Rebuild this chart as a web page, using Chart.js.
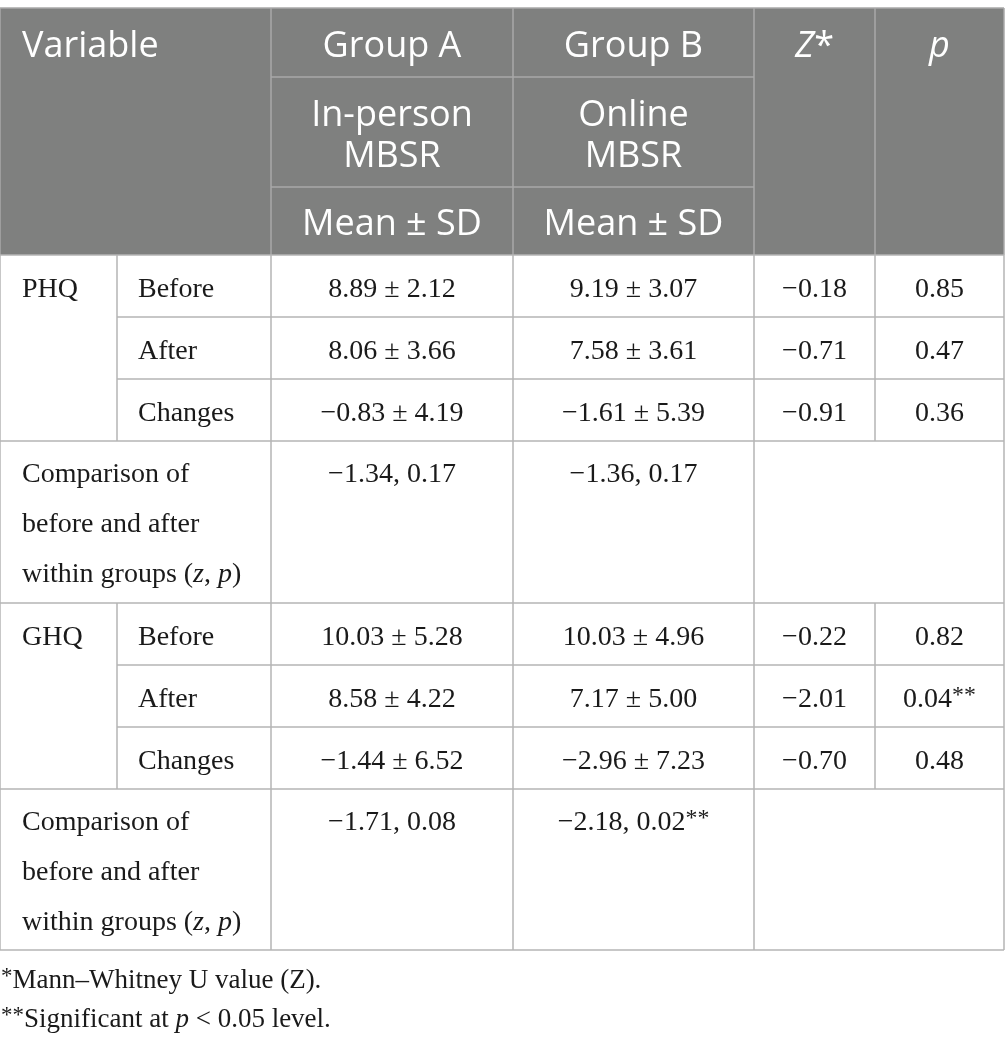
<!DOCTYPE html>
<html>
<head>
<meta charset="utf-8">
<style>
  html, body { margin: 0; padding: 0; background: #ffffff; }
  canvas { display: block; }
</style>
<script src="https://cdn.jsdelivr.net/npm/chart.js@4/dist/chart.umd.min.js"></script>
</head>
<body>
<canvas id="c" width="1005" height="1046"></canvas>
<script>
// ---------- DATA ----------
const headerVariable = 'Variable';
const groupNames = ['Group A', 'Group B'];
const groupModes = [['In-person', 'MBSR'], ['Online', 'MBSR']];
const statLabel = 'Mean ± SD';
const measures = ['PHQ', 'GHQ'];
const timepoints = ['Before', 'After', 'Changes'];
const meanA = [[8.89, 8.06, -0.83], [10.03, 8.58, -1.44]];
const sdA   = [[2.12, 3.66, 4.19], [5.28, 4.22, 6.52]];
const meanB = [[9.19, 7.58, -1.61], [10.03, 7.17, -2.96]];
const sdB   = [[3.07, 3.61, 5.39], [4.96, 5.00, 7.23]];
const zVals = [[-0.18, -0.71, -0.91], [-0.22, -2.01, -0.70]];
const pVals = [[0.85, 0.47, 0.36], [0.82, 0.04, 0.48]];
const withinA = [[-1.34, 0.17], [-1.71, 0.08]];
const withinB = [[-1.36, 0.17], [-2.18, 0.02]];
const footnotes = [
  [{t: '*', a: true}, {t: 'Mann–Whitney U value (Z).'}],
  [{t: '**', a: true}, {t: 'Significant at '}, {t: 'p', i: true}, {t: ' < 0.05 level.'}]
];

// ---------- LAYOUT (positions / styles) ----------
const colEdges = [0, 117, 271, 513, 754, 875, 1004];
const headRows = [8, 77, 187, 255];
const bodyRows = [255, 317, 379, 441, 603, 665, 727, 789, 950];
const footBase = [988, 1027];
const HEAD_BG = '#7f807f', HEAD_LINE = '#a8a8a8', BODY_LINE = '#b4b4b4';
const TXT = '#1a1a1a';
const SANS = '"Open Sans", sans-serif';
const SERIF = '"Liberation Serif", "Times New Roman", serif';
const HS = 36, BS = 28;

function fmt(v) { return (v < 0 ? '−' : '') + Math.abs(v).toFixed(2); }
function sigSeg(p) { return p < 0.05 ? [{t: '**', a: true}] : []; }

const tablePlugin = {
  id: 'table',
  afterDraw(chart) {
    const ctx = chart.ctx, xs = chart.scales.x, ys = chart.scales.y;
    const X = v => xs.getPixelForValue(v), Y = v => ys.getPixelForValue(v);
    ctx.save();
    ctx.fillStyle = HEAD_BG;
    ctx.fillRect(X(colEdges[0]), Y(headRows[0]), X(colEdges[6]) - X(colEdges[0]), Y(headRows[3]) - Y(headRows[0]));

    function line(x1, y1, x2, y2, col) {
      ctx.strokeStyle = col; ctx.lineWidth = 1.5;
      ctx.beginPath(); ctx.moveTo(X(x1), Y(y1)); ctx.lineTo(X(x2), Y(y2)); ctx.stroke();
    }
    function fontOf(s, size, family) {
      const sz = s.a ? size * 0.85 : size;
      return (s.i ? 'italic ' : '') + sz + 'px ' + family;
    }
    function rich(segs, x, y, size, family, align, color) {
      ctx.fillStyle = color; ctx.textBaseline = 'alphabetic';
      let total = 0;
      segs.forEach(s => { ctx.font = fontOf(s, size, family); total += ctx.measureText(s.t).width; });
      let cx = align === 'center' ? X(x) - total / 2 : X(x);
      ctx.textAlign = 'left';
      segs.forEach(s => {
        ctx.font = fontOf(s, size, family);
        ctx.fillText(s.t, cx, Y(y) - (s.a ? size * 0.17 : 0));
        cx += ctx.measureText(s.t).width;
      });
    }
    const mid = (a, b) => (colEdges[a] + colEdges[b]) / 2;

    // header lines
    [2, 3, 4, 5].forEach(c => line(colEdges[c], headRows[0], colEdges[c], headRows[3], HEAD_LINE));
    line(colEdges[2], headRows[1], colEdges[4], headRows[1], HEAD_LINE);
    line(colEdges[2], headRows[2], colEdges[4], headRows[2], HEAD_LINE);
    line(colEdges[0], headRows[0], colEdges[6], headRows[0], HEAD_LINE);
    line(colEdges[0], headRows[0], colEdges[0], headRows[3], HEAD_LINE);
    line(colEdges[6], headRows[0], colEdges[6], headRows[3], HEAD_LINE);

    // header text
    const W = '#ffffff';
    rich([{t: headerVariable}], colEdges[0] + 22, headRows[0] + 49, HS, SANS, 'left', W);
    groupNames.forEach((g, k) => {
      rich([{t: g}], mid(2 + k, 3 + k), headRows[0] + 49, HS, SANS, 'center', W);
      rich([{t: groupModes[k][0]}], mid(2 + k, 3 + k), headRows[1] + 49, HS, SANS, 'center', W);
      rich([{t: groupModes[k][1]}], mid(2 + k, 3 + k), headRows[1] + 90, HS, SANS, 'center', W);
      rich([{t: statLabel}], mid(2 + k, 3 + k), headRows[2] + 48, HS, SANS, 'center', W);
    });
    rich([{t: 'Z', i: true}, {t: '*'}], mid(4, 5), headRows[0] + 49, HS, SANS, 'center', W);
    rich([{t: 'p', i: true}], mid(5, 6), headRows[0] + 49, HS, SANS, 'center', W);

    // body
    const br = bodyRows;
    measures.forEach((m, g) => {
      const r0 = g * 4;
      for (let t = 0; t < 3; t++) {
        const top = br[r0 + t], bot = br[r0 + t + 1];
        if (t > 0) line(colEdges[1], top, colEdges[6], top, BODY_LINE);
        line(colEdges[1], top, colEdges[1], bot, BODY_LINE);
        line(colEdges[5], top, colEdges[5], bot, BODY_LINE);
        const base = top + 42;
        if (t === 0) rich([{t: m}], colEdges[0] + 22, base, BS, SERIF, 'left', TXT);
        rich([{t: timepoints[t]}], colEdges[1] + 21, base, BS, SERIF, 'left', TXT);
        rich([{t: fmt(meanA[g][t]) + ' ± ' + sdA[g][t].toFixed(2)}], mid(2, 3), base, BS, SERIF, 'center', TXT);
        rich([{t: fmt(meanB[g][t]) + ' ± ' + sdB[g][t].toFixed(2)}], mid(3, 4), base, BS, SERIF, 'center', TXT);
        rich([{t: fmt(zVals[g][t])}], mid(4, 5), base, BS, SERIF, 'center', TXT);
        rich([{t: pVals[g][t].toFixed(2)}].concat(sigSeg(pVals[g][t])), mid(5, 6), base, BS, SERIF, 'center', TXT);
      }
      const ct = br[r0 + 3], cb = br[r0 + 4];
      line(colEdges[0], ct, colEdges[6], ct, BODY_LINE);
      const b1 = ct + 41;
      rich([{t: 'Comparison of'}], colEdges[0] + 22, b1, BS, SERIF, 'left', TXT);
      rich([{t: 'before and after'}], colEdges[0] + 22, b1 + 50, BS, SERIF, 'left', TXT);
      rich([{t: 'within groups ('}, {t: 'z', i: true}, {t: ', '}, {t: 'p', i: true}, {t: ')'}], colEdges[0] + 22, b1 + 100, BS, SERIF, 'left', TXT);
      rich([{t: fmt(withinA[g][0]) + ', ' + withinA[g][1].toFixed(2)}].concat(sigSeg(withinA[g][1])), mid(2, 3), b1, BS, SERIF, 'center', TXT);
      rich([{t: fmt(withinB[g][0]) + ', ' + withinB[g][1].toFixed(2)}].concat(sigSeg(withinB[g][1])), mid(3, 4), b1, BS, SERIF, 'center', TXT);
      line(colEdges[0], cb, colEdges[6], cb, BODY_LINE);
    });
    [0, 2, 3, 4, 6].forEach(c => line(colEdges[c], br[0], colEdges[c], br[8], BODY_LINE));
    line(colEdges[0], br[0], colEdges[6], br[0], BODY_LINE);

    // footnotes
    footnotes.forEach((f, k) => rich(f, colEdges[0] + 1, footBase[k], 27, SERIF, 'left', TXT));
    ctx.restore();
  }
};

new Chart(document.getElementById('c'), {
  type: 'scatter',
  data: { datasets: [] },
  options: {
    responsive: false,
    animation: false,
    events: [],
    layout: { padding: 0 },
    plugins: { legend: { display: false }, tooltip: { enabled: false } },
    scales: {
      x: { type: 'linear', min: 0, max: 1005, display: false },
      y: { type: 'linear', min: 0, max: 1046, reverse: true, display: false }
    }
  },
  plugins: [tablePlugin]
});
</script>
</body>
</html>
